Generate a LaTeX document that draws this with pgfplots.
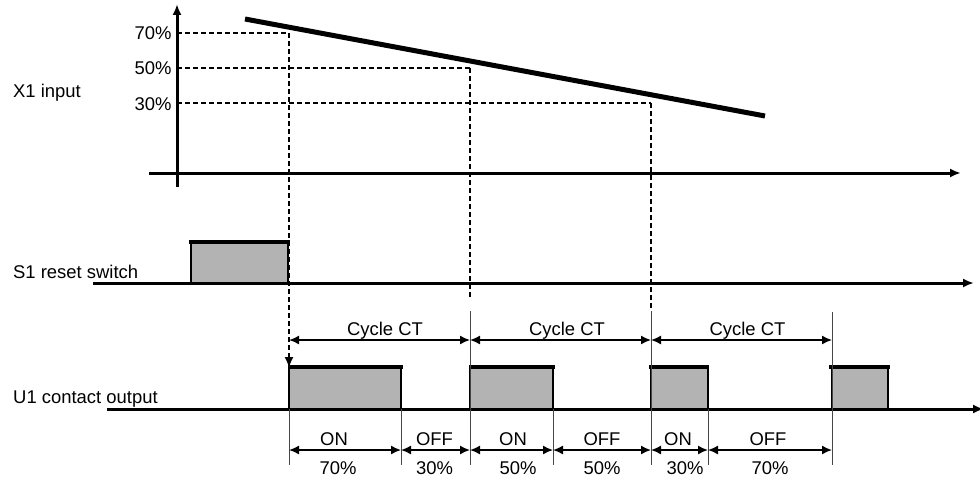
\documentclass[border=0pt]{standalone}
\usepackage{fontspec}
\setmainfont{Liberation Sans}
\usepackage{pgfplots}
\pgfplotsset{compat=1.18}
\usetikzlibrary{arrows.meta}

\definecolor{pulsegray}{RGB}{179,179,179}
\definecolor{extgray}{RGB}{70,70,70}

\tikzset{
  tip/.style={-{Latex[length=11bp,width=9bp]}},
  dim/.style={{Latex[length=10bp,width=9bp]}-{Latex[length=10bp,width=9bp]}, line width=1.5bp, black},
  ext/.style={line width=0.9bp, extgray},
  guide/.style={line width=1.5bp, black, dash pattern=on 5bp off 3bp},
}

\begin{document}
\begin{tikzpicture}
\begin{axis}[
    width=980bp, height=479bp,
    scale only axis,
    xmin=0, xmax=980,
    ymin=0, ymax=479,
    y dir=reverse,
    hide axis,
    clip=false,
    no markers,
    font=\fontsize{18.5}{22}\selectfont,
]
% ---- X1 input panel ----
\addplot[guide] coordinates {(177,33) (289,33)};
\addplot[guide] coordinates {(177,68) (470,68)};
\addplot[guide] coordinates {(177,103) (651,103)};
\addplot[guide, line width=2bp, -{Latex[length=11bp,width=9bp]}] coordinates {(289,33) (289,368)};
\addplot[guide] coordinates {(470,68) (470,298)};
\addplot[guide] coordinates {(651,103) (651,310)};

\addplot[black, line width=3bp, tip] coordinates {(177,187) (177,4)};
\addplot[black, line width=3bp, tip] coordinates {(149,173) (961,173)};
\addplot[black, line width=5bp] coordinates {(245,19) (765,116)};

\node[anchor=base east] at (axis cs:175,40) {70\%};
\node[anchor=base east] at (axis cs:175,75) {50\%};
\node[anchor=base east] at (axis cs:175,110) {30\%};
\node[anchor=base west, inner sep=0pt] at (axis cs:13,97) {X1 input};

% ---- S1 reset switch ----
\addplot[fill=pulsegray, draw=black, line width=2bp] coordinates {(191,283) (191,242) (288,242) (288,283)};
\addplot[black, line width=3.5bp] coordinates {(189,242) (290,242)};
\addplot[black, line width=3bp, tip] coordinates {(93,283) (974,283)};
\node[anchor=base west, inner sep=0pt] at (axis cs:13,278) {S1 reset switch};

% ---- U1 contact output ----
\addplot[fill=pulsegray, draw=black, line width=2bp] coordinates {(289,408) (289,367) (401,367) (401,408)};
\addplot[fill=pulsegray, draw=black, line width=2bp] coordinates {(470,408) (470,367) (553,367) (553,408)};
\addplot[fill=pulsegray, draw=black, line width=2bp] coordinates {(651,408) (651,367) (708,367) (708,408)};
\addplot[fill=pulsegray, draw=black, line width=2bp] coordinates {(832,408) (832,367) (888,367) (888,408)};
\addplot[black, line width=3.5bp] coordinates {(288,367) (403,367)};
\addplot[black, line width=3.5bp] coordinates {(469,367) (555,367)};
\addplot[black, line width=3.5bp] coordinates {(649,367) (709,367)};
\addplot[black, line width=3.5bp] coordinates {(829,367) (890,367)};
\addplot[black, line width=3bp, tip] coordinates {(107,409) (984,409)};
\node[anchor=base west, inner sep=0pt] at (axis cs:13,403) {U1 contact output};

% ---- extension lines ----
\addplot[ext] coordinates {(289,409) (289,465)};
\addplot[ext] coordinates {(401,409) (401,465)};
\addplot[ext] coordinates {(470,311) (470,465)};
\addplot[ext] coordinates {(553,409) (553,465)};
\addplot[ext] coordinates {(651,311) (651,465)};
\addplot[ext] coordinates {(708,409) (708,465)};
\addplot[ext] coordinates {(832,312) (832,465)};

% ---- cycle dimensions ----
\addplot[dim] coordinates {(289,340) (470,340)};
\addplot[dim] coordinates {(470,340) (651,340)};
\addplot[dim] coordinates {(651,340) (832,340)};
\node[anchor=base] at (axis cs:385,335) {Cycle CT};
\node[anchor=base] at (axis cs:567,335) {Cycle CT};
\node[anchor=base] at (axis cs:747.5,335) {Cycle CT};

% ---- ON / OFF dimensions ----
\addplot[dim] coordinates {(289,450) (401,450)};
\addplot[dim] coordinates {(401,450) (470,450)};
\addplot[dim] coordinates {(470,450) (553,450)};
\addplot[dim] coordinates {(553,450) (651,450)};
\addplot[dim] coordinates {(651,450) (708,450)};
\addplot[dim] coordinates {(708,450) (832,450)};
\node[anchor=base] at (axis cs:334,445) {ON};
\node[anchor=base] at (axis cs:434.5,445) {OFF};
\node[anchor=base] at (axis cs:513,445) {ON};
\node[anchor=base] at (axis cs:602,445) {OFF};
\node[anchor=base] at (axis cs:678,445) {ON};
\node[anchor=base] at (axis cs:768,445) {OFF};
\node[anchor=base] at (axis cs:338,474) {70\%};
\node[anchor=base] at (axis cs:434.5,474) {30\%};
\node[anchor=base] at (axis cs:518,474) {50\%};
\node[anchor=base] at (axis cs:602,474) {50\%};
\node[anchor=base] at (axis cs:685,474) {30\%};
\node[anchor=base] at (axis cs:770,474) {70\%};
\end{axis}
\pgfresetboundingbox
\path (current axis.south west) rectangle (current axis.north east);
\end{tikzpicture}
\end{document}
